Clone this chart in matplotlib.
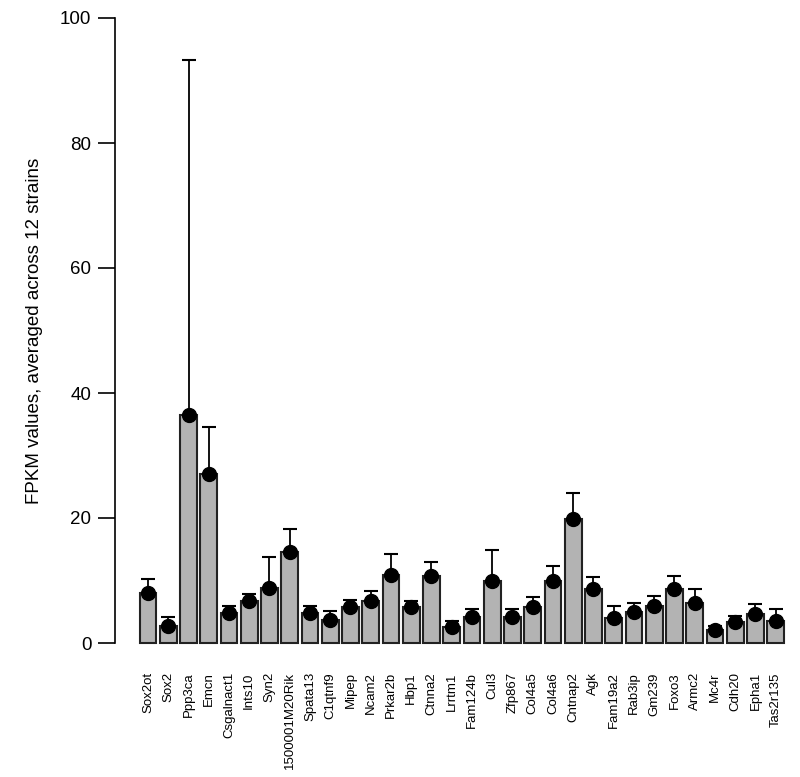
import matplotlib
matplotlib.use("Agg")
import matplotlib.pyplot as plt
import numpy as np

# gene names along the x axis
genes = ["Sox2ot", "Sox2", "Ppp3ca", "Emcn", "Csgalnact1", "Ints10", "Syn2",
         "1500001M20Rik", "Spata13", "C1qtnf9", "Mipep", "Ncam2", "Prkar2b",
         "Hbp1", "Ctnna2", "Lrrtm1", "Fam124b", "Cul3", "Zfp867", "Col4a5",
         "Col4a6", "Cntnap2", "Agk", "Fam19a2", "Rab3ip", "Gm239", "Foxo3",
         "Armc2", "Mc4r", "Cdh20", "Epha1", "Tas2r135"]

# mean FPKM across strains
fpkm_mean = [8.0, 2.8, 36.5, 27.1, 4.8, 6.8, 8.8, 14.5, 4.8, 3.7, 5.8, 6.8,
             10.9, 5.8, 10.7, 2.6, 4.2, 9.9, 4.2, 5.8, 9.9, 19.8, 8.7, 4.0,
             5.0, 6.0, 8.6, 6.4, 2.1, 3.4, 4.7, 3.6]

# upper end of the error bar
fpkm_upper = [10.3, 4.2, 93.3, 34.5, 6.0, 7.8, 13.7, 18.2, 6.0, 5.2, 6.9, 8.4,
              14.3, 6.8, 13.0, 3.5, 5.5, 14.9, 5.5, 7.4, 12.3, 24.0, 10.5, 6.0,
              6.4, 7.6, 10.7, 8.7, 2.8, 4.4, 6.2, 5.4]

plt.rcParams['font.family'] = ['Liberation Sans', 'DejaVu Sans']

fig = plt.figure(figsize=(8, 7.77), dpi=100)
ax = fig.add_axes([115 / 800, (777 - 643) / 777, 685 / 800, 625 / 777])

x = np.arange(len(genes))
mean = np.array(fpkm_mean)
upper = np.array(fpkm_upper)

ax.bar(x, mean, width=0.833, color="#b3b3b3", edgecolor="#222222",
       linewidth=1.5, clip_on=False, zorder=2)
ax.errorbar(x, mean, yerr=[np.zeros_like(mean), upper - mean], fmt="none",
            ecolor="black", elinewidth=1.3, capsize=5, capthick=1.5, zorder=3,
            clip_on=False)
ax.plot(x, mean, "o", color="black", markersize=10, zorder=4, clip_on=False)

ax.set_xlim(-1.63, 32.2)
ax.set_ylim(0, 100)

# R-style axis: only the left spine, no bottom axis line
for side in ["top", "right", "bottom"]:
    ax.spines[side].set_visible(False)
ax.spines["left"].set_linewidth(1.2)
ax.set_yticks([0, 20, 40, 60, 80, 100])
ax.tick_params(axis="y", length=12, width=1.2, labelsize=13.5, pad=5)

ax.set_xticks(x)
ax.set_xticklabels(genes, rotation=90, fontsize=9.5)
ax.tick_params(axis="x", length=0, pad=21)

ax.set_ylabel("FPKM values, averaged across 12 strains", fontsize=13.5,
              labelpad=12)

plt.savefig("out.png", dpi=100)
